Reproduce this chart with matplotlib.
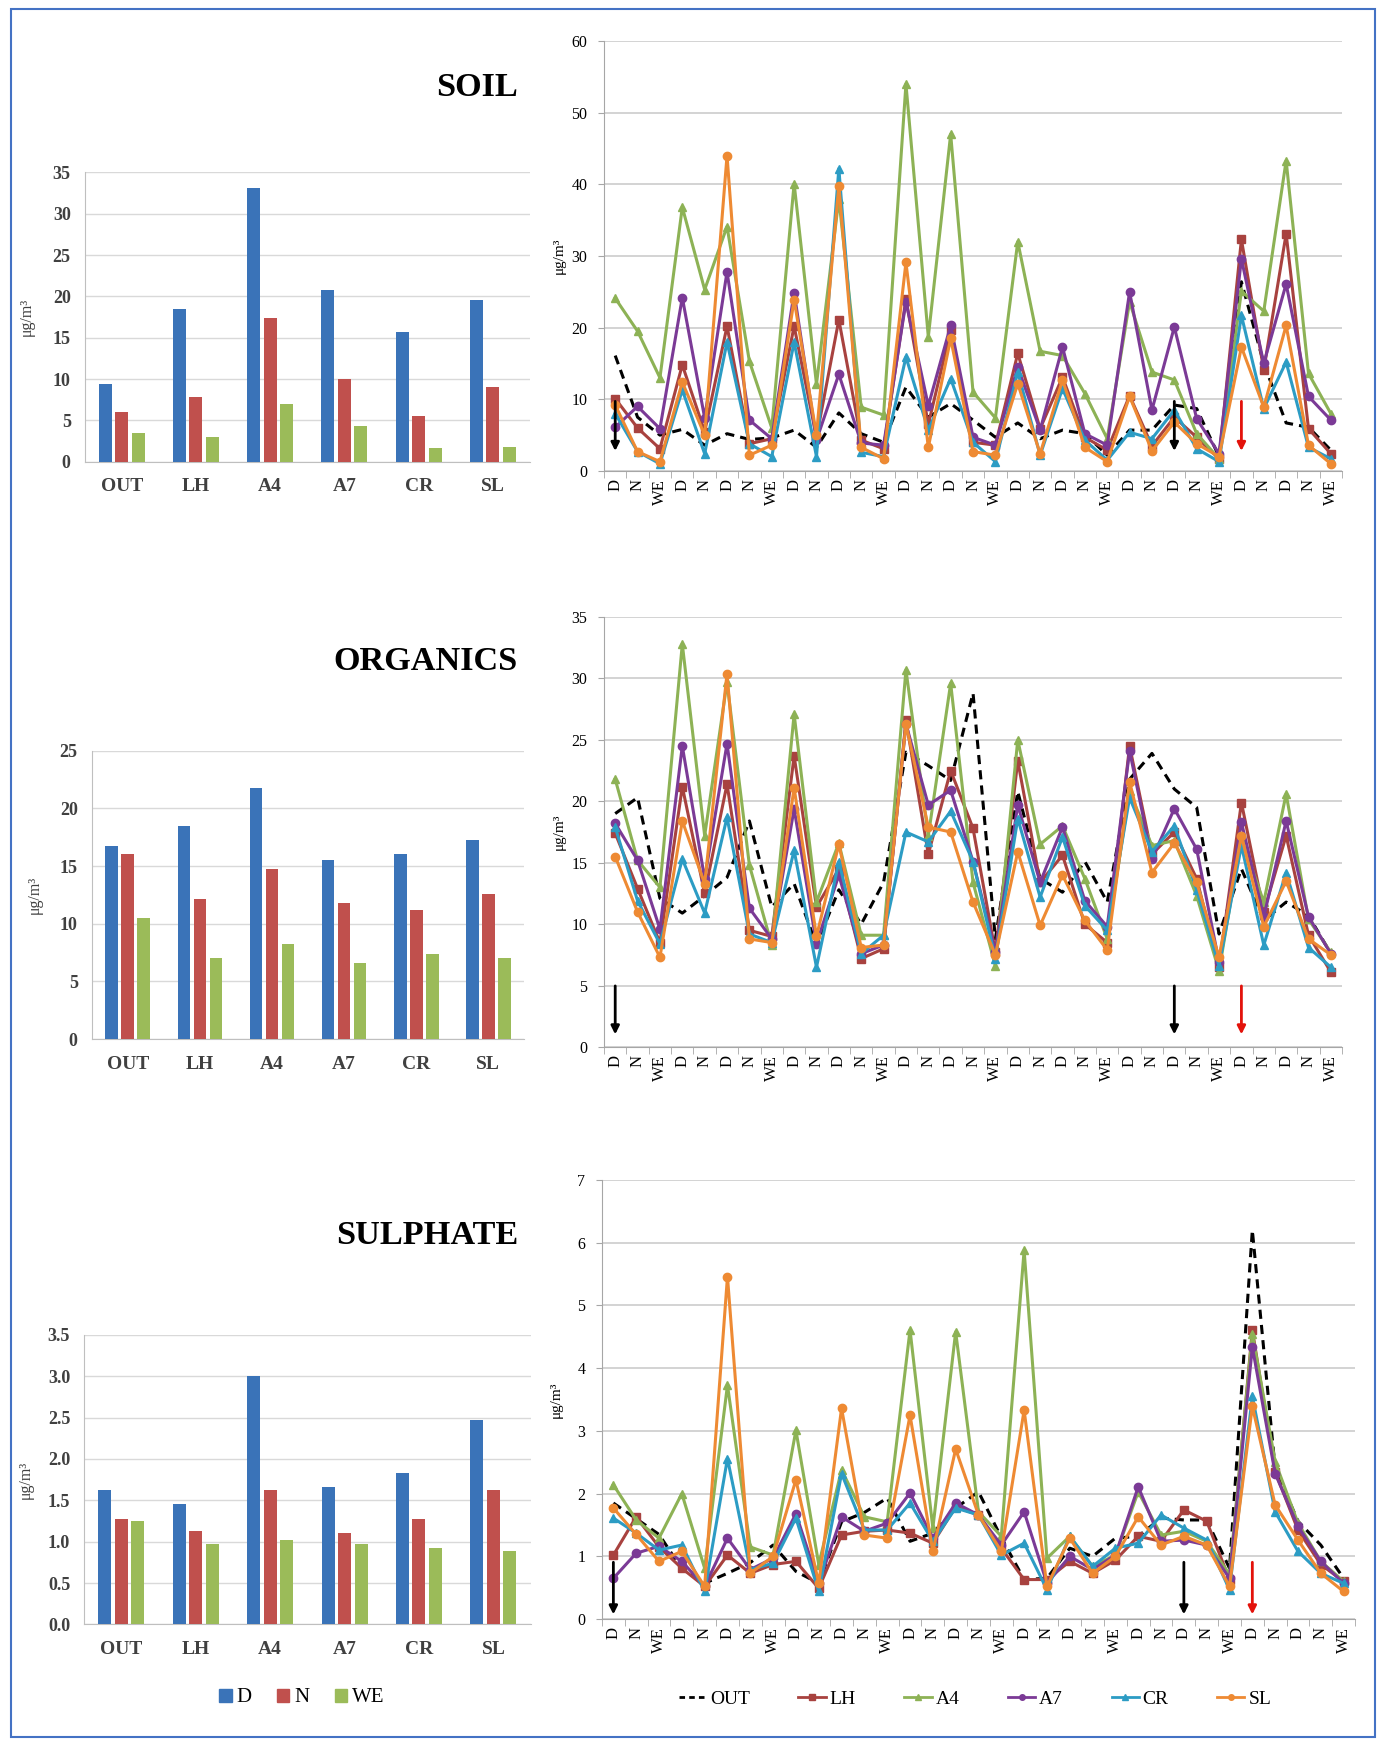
import matplotlib
matplotlib.use('Agg')
import matplotlib.pyplot as plt
from matplotlib.patches import Rectangle, Patch
from matplotlib.lines import Line2D
import numpy as np

plt.rcParams['font.family'] = ['Liberation Serif', 'DejaVu Serif']

# ---- data ----
sites = ['OUT', 'LH', 'A4', 'A7', 'CR', 'SL']
periods = ['D', 'N', 'WE']
time_labels = ['D', 'N', 'WE',
               'D', 'N', 'D', 'N', 'WE', 'D', 'N', 'D', 'N', 'WE',
               'D', 'N', 'D', 'N', 'WE', 'D', 'N', 'D', 'N', 'WE',
               'D', 'N', 'D', 'N', 'WE', 'D', 'N', 'D', 'N', 'WE']

# bar charts: mean per site for D / N / WE
soil_bar_d = [9.4, 18.5, 33.1, 20.8, 15.7, 19.6]
soil_bar_n = [6.0, 7.8, 17.4, 10.0, 5.5, 9.0]
soil_bar_we = [3.5, 3.0, 7.0, 4.3, 1.6, 1.8]

org_bar_d = [16.7, 18.5, 21.8, 15.5, 16.0, 17.3]
org_bar_n = [16.0, 12.1, 14.7, 11.8, 11.2, 12.6]
org_bar_we = [10.5, 7.0, 8.2, 6.6, 7.4, 7.0]

sul_bar_d = [1.63, 1.46, 3.00, 1.66, 1.83, 2.47]
sul_bar_n = [1.27, 1.13, 1.63, 1.10, 1.28, 1.62]
sul_bar_we = [1.25, 0.97, 1.02, 0.97, 0.92, 0.89]

# time series, soil
soil_out = [16.1, 7.5, 5.0, 5.8, 3.6, 5.2, 4.4, 4.6, 5.7, 3.3, 8.1, 5.2, 4.0, 11.7, 7.5, 9.4, 7.1,
            4.7, 6.7, 4.5, 5.7, 5.2, 2.2, 5.7, 5.7, 9.2, 8.7, 2.0, 26.4, 15.0, 6.7, 6.1, 2.9]
soil_lh = [10.1, 6.0, 3.1, 14.8, 5.5, 20.2, 3.8, 4.5, 20.2, 4.7, 21.1, 4.3, 3.1, 24.0, 6.5, 19.6, 4.0,
           3.6, 16.4, 5.9, 13.1, 4.7, 2.9, 10.5, 3.5, 7.5, 4.7, 1.7, 32.3, 14.1, 33.1, 5.9, 2.4]
soil_a4 = [24.1, 19.5, 13.0, 36.8, 25.3, 34.1, 15.3, 6.0, 40.1, 12.1, 38.0, 8.9, 7.8, 54.0, 18.7, 47.0, 11.0,
           7.4, 32.0, 16.7, 16.1, 10.8, 4.5, 23.6, 13.8, 12.7, 5.2, 1.7, 25.1, 22.3, 43.3, 13.6, 8.0]
soil_a7 = [6.1, 9.0, 5.9, 24.2, 7.4, 27.8, 7.1, 4.5, 24.9, 4.3, 13.5, 3.9, 3.6, 23.6, 9.1, 20.3, 4.7,
           3.6, 14.5, 5.7, 17.3, 5.2, 3.6, 25.0, 8.5, 20.1, 7.3, 2.4, 29.6, 15.0, 26.1, 10.4, 7.1]
soil_cr = [8.0, 2.7, 1.0, 11.3, 2.4, 18.0, 3.8, 2.0, 18.0, 2.0, 42.2, 2.6, 2.0, 15.9, 5.7, 12.9, 4.0,
           1.3, 13.8, 2.2, 11.5, 4.3, 1.5, 5.4, 4.5, 8.5, 3.1, 1.3, 21.7, 8.7, 15.2, 3.3, 1.7]
soil_sl = [9.2, 2.7, 1.3, 12.4, 5.0, 44.0, 2.2, 3.6, 23.9, 5.0, 39.8, 3.3, 1.7, 29.1, 3.3, 18.5, 2.7,
           2.2, 12.2, 2.4, 12.7, 3.3, 1.3, 10.4, 2.8, 6.8, 3.8, 2.0, 17.3, 8.9, 20.3, 3.6, 1.0]

# time series, organics
org_out = [19.0, 20.3, 12.1, 10.9, 12.3, 13.8, 18.4, 11.4, 13.3, 8.3, 12.8, 10.0, 13.4, 24.0, 22.9, 21.7, 28.8,
           8.8, 20.8, 13.7, 12.6, 15.1, 11.8, 21.8, 23.9, 21.0, 19.5, 9.2, 14.5, 10.3, 11.8, 10.7, 7.6]
org_lh = [17.4, 12.9, 8.5, 21.2, 12.5, 21.4, 9.5, 9.0, 23.7, 11.4, 14.5, 7.2, 8.0, 26.6, 15.7, 22.5, 17.8,
          7.7, 23.3, 13.4, 15.6, 10.0, 8.5, 24.5, 15.7, 17.5, 13.7, 6.5, 19.9, 11.0, 17.2, 9.1, 6.1]
org_a4 = [21.8, 15.2, 13.0, 32.8, 17.2, 29.7, 14.8, 8.3, 27.1, 11.8, 16.6, 9.1, 9.1, 30.7, 17.2, 29.6, 13.4,
          6.6, 25.0, 16.5, 18.0, 13.7, 8.8, 20.8, 16.4, 16.8, 12.3, 6.2, 17.0, 11.8, 20.6, 10.4, 7.7]
org_a7 = [18.2, 15.2, 9.6, 24.5, 13.7, 24.7, 11.3, 8.8, 19.4, 8.4, 14.0, 7.6, 8.3, 26.3, 19.7, 20.9, 15.1,
          7.7, 19.7, 13.4, 17.9, 11.9, 9.8, 24.1, 15.3, 19.4, 16.1, 6.9, 18.3, 10.6, 18.4, 10.6, 7.6]
org_cr = [17.9, 11.9, 8.4, 15.3, 10.9, 18.7, 9.2, 8.5, 16.0, 6.5, 15.1, 7.6, 9.1, 17.5, 16.7, 19.2, 15.1,
          7.2, 18.6, 12.2, 17.1, 11.5, 9.5, 20.3, 15.9, 18.0, 12.8, 6.6, 16.4, 8.3, 14.2, 8.1, 6.5]
org_sl = [15.5, 11.0, 7.3, 18.4, 13.3, 30.4, 8.8, 8.5, 21.1, 9.0, 16.5, 8.1, 8.3, 26.3, 17.9, 17.5, 11.8,
          7.5, 15.9, 9.9, 14.0, 10.3, 7.9, 21.6, 14.2, 16.6, 13.4, 7.3, 17.2, 9.8, 13.5, 8.8, 7.5]

# time series, sulphate
sul_out = [1.85, 1.6, 1.35, 0.8, 0.57, 0.73, 0.9, 1.18, 0.76, 0.57, 1.55, 1.7, 1.93, 1.24, 1.37, 1.77, 2.03,
           1.3, 0.63, 0.65, 1.13, 1.0, 1.29, 1.32, 1.61, 1.58, 1.58, 0.81, 6.2, 2.4, 1.56, 1.18, 0.65]
sul_lh = [1.02, 1.63, 1.15, 0.81, 0.52, 1.02, 0.73, 0.87, 0.92, 0.49, 1.34, 1.4, 1.42, 1.37, 1.21, 1.79, 1.66,
          1.13, 0.63, 0.63, 0.92, 0.73, 0.94, 1.32, 1.24, 1.74, 1.56, 0.63, 4.61, 2.35, 1.42, 0.87, 0.6]
sul_a4 = [2.14, 1.58, 1.29, 2.0, 0.81, 3.73, 1.15, 1.02, 3.01, 0.87, 2.38, 1.63, 1.55, 4.61, 1.45, 4.58, 1.71,
          1.32, 5.88, 0.97, 1.32, 0.84, 1.02, 2.03, 1.34, 1.4, 1.24, 0.71, 4.55, 2.51, 1.53, 0.92, 0.6]
sul_a7 = [0.65, 1.05, 1.16, 0.92, 0.52, 1.29, 0.79, 0.97, 1.68, 0.57, 1.63, 1.4, 1.53, 2.01, 1.29, 1.85, 1.66,
          1.18, 1.71, 0.57, 1.0, 0.79, 1.02, 2.11, 1.24, 1.26, 1.18, 0.65, 4.34, 2.32, 1.48, 0.92, 0.57]
sul_cr = [1.61, 1.37, 1.1, 1.18, 0.44, 2.56, 0.79, 0.89, 1.61, 0.44, 2.32, 1.42, 1.42, 1.85, 1.24, 1.77, 1.66,
          1.02, 1.21, 0.47, 1.32, 0.84, 1.13, 1.21, 1.66, 1.45, 1.26, 0.47, 3.55, 1.71, 1.08, 0.73, 0.57]
sul_sl = [1.77, 1.35, 0.92, 1.08, 0.52, 5.46, 0.73, 1.0, 2.22, 0.57, 3.36, 1.34, 1.29, 3.25, 1.08, 2.71, 1.66,
          1.08, 3.33, 0.52, 1.29, 0.73, 1.0, 1.63, 1.18, 1.32, 1.18, 0.52, 3.39, 1.82, 1.26, 0.73, 0.44]

# arrows marking events (x index)
black_arrow_idx = [0, 25]
red_arrow_idx = [28]

# ---- styles ----
bar_colors = ['#3A73B8', '#C0504D', '#9BBB59']
line_colors = ['black', '#A8423F', '#8DB255', '#7B3A96', '#2C9CC4', '#EE8A33']
line_markers = [None, 's', '^', 'o', '^', 'o']
grid_col = '#C8C8C8'
axis_col = '#A6A6A6'

fig = plt.figure(figsize=(13.8, 17.43), dpi=100)


def bar_panel(rect, d, n, we, ymax, ystep, fmt):
    ax = fig.add_axes(rect)
    x = np.arange(len(sites))
    for k, vals in enumerate([d, n, we]):
        ax.bar(x + (k - 1) * 0.222, vals, width=0.175, color=bar_colors[k], zorder=3)
    ax.set_xlim(-0.5, len(sites) - 0.5)
    ax.set_ylim(0, ymax)
    ticks = np.arange(0, ymax + ystep / 2, ystep)
    ax.set_yticks(ticks)
    ax.set_yticklabels([fmt % t for t in ticks], fontsize=13, fontweight='bold', color='#404040')
    ax.set_xticks(x)
    ax.set_xticklabels(sites, fontsize=14, fontweight='bold', color='#404040')
    ax.grid(axis='y', color='#D9D9D9', lw=1, zorder=0)
    for s in ['top', 'right']:
        ax.spines[s].set_visible(False)
    ax.spines['left'].set_color('#BFBFBF')
    ax.spines['bottom'].set_color('#BFBFBF')
    ax.tick_params(axis='x', length=0, pad=12)
    ax.tick_params(axis='y', length=0, pad=10)
    ax.set_ylabel('μg/m³', fontsize=11.5, color='#404040')
    ax.yaxis.set_label_coords(-0.112, 0.5)
    return ax


def line_panel(rect, series, ymax, ystep, arrow_top, arrow_bot):
    ax = fig.add_axes(rect)
    x = np.arange(len(time_labels))
    for k, vals in enumerate(series):
        if k == 0:
            ax.plot(x, vals, color='black', lw=2.2, ls=(0, (3, 2)), zorder=3)
        else:
            ax.plot(x, vals, color=line_colors[k], lw=2.2, marker=line_markers[k],
                    ms=6, zorder=3 + k)
    ax.set_xlim(-0.5, len(time_labels) - 0.5)
    ax.set_ylim(0, ymax)
    ax.set_yticks(np.arange(0, ymax + ystep / 2, ystep))
    ax.tick_params(axis='y', labelsize=11.5, length=4, color=axis_col, pad=8)
    ax.set_xticks(x)
    ax.set_xticklabels(time_labels, rotation=90, fontsize=12)
    ax.set_xticks(np.arange(-0.5, len(time_labels)), minor=True)
    ax.tick_params(axis='x', which='major', length=0, pad=6)
    ax.tick_params(axis='x', which='minor', length=5, color=axis_col)
    ax.grid(axis='y', color=grid_col, lw=1.1, zorder=0)
    for s in ['top', 'right']:
        ax.spines[s].set_visible(False)
    ax.spines['left'].set_color(axis_col)
    ax.spines['bottom'].set_color(axis_col)
    ax.set_ylabel('μg/m³', fontsize=11)
    ax.yaxis.set_label_coords(-0.052, 0.5)
    for idx in black_arrow_idx:
        ax.annotate('', xy=(idx, arrow_bot), xytext=(idx, arrow_top),
                    arrowprops=dict(arrowstyle='-|>', color='black', lw=2, mutation_scale=12),
                    zorder=20)
    for idx in red_arrow_idx:
        ax.annotate('', xy=(idx, arrow_bot), xytext=(idx, arrow_top),
                    arrowprops=dict(arrowstyle='-|>', color='#E3120B', lw=2, mutation_scale=12),
                    zorder=20)
    return ax


# bar charts (left column)
bar_panel([0.0613, 0.7351, 0.3228, 0.1660], soil_bar_d, soil_bar_n, soil_bar_we, 35, 5, '%d')
bar_panel([0.0664, 0.4039, 0.3136, 0.1654], org_bar_d, org_bar_n, org_bar_we, 25, 5, '%d')
bar_panel([0.0609, 0.0680, 0.3236, 0.1662], sul_bar_d, sul_bar_n, sul_bar_we, 3.5, 0.5, '%.1f')

# line charts (right column)
line_panel([0.4377, 0.7298, 0.5348, 0.2467],
           [soil_out, soil_lh, soil_a4, soil_a7, soil_cr, soil_sl], 60, 10, 10.1, 2.4)
line_panel([0.4377, 0.3993, 0.5348, 0.2467],
           [org_out, org_lh, org_a4, org_a7, org_cr, org_sl], 35, 5, 5.2, 0.8)
line_panel([0.4362, 0.0711, 0.5457, 0.2519],
           [sul_out, sul_lh, sul_a4, sul_a7, sul_cr, sul_sl], 7, 1, 0.95, 0.03)

# panel titles
for title, ypix in [('SOIL', 87), ('ORGANICS', 662), ('SULPHATE', 1235)]:
    fig.text(518 / 1380, 1 - ypix / 1743, title, ha='right', va='center',
             fontsize=24.7, fontweight='bold')

# legends
bar_handles = [Patch(color=c) for c in bar_colors]
fig.legend(bar_handles, periods, loc='center', bbox_to_anchor=(302 / 1380, 1 - 1698 / 1743),
           ncol=3, frameon=False, fontsize=15, handlelength=0.6, handleheight=0.6,
           handletextpad=0.25, columnspacing=1.2)

line_handles = []
for k in range(len(sites)):
    if k == 0:
        line_handles.append(Line2D([], [], color='black', lw=2, ls=(0, (2, 1.5))))
    else:
        line_handles.append(Line2D([], [], color=line_colors[k], lw=2,
                                   marker=line_markers[k], ms=4))
fig.legend(line_handles, sites, loc='center', bbox_to_anchor=(975 / 1380, 1 - 1699 / 1743),
           ncol=6, frameon=False, fontsize=14, handlelength=1.4, handletextpad=0.2,
           columnspacing=2.5)

# blue frame around the whole figure
fig.add_artist(Rectangle((11 / 1380, 6 / 1743), 1364 / 1380, 1728 / 1743,
                         transform=fig.transFigure, fill=False, ec='#4472C4', lw=1.5))

fig.savefig('out.png', dpi=100)
